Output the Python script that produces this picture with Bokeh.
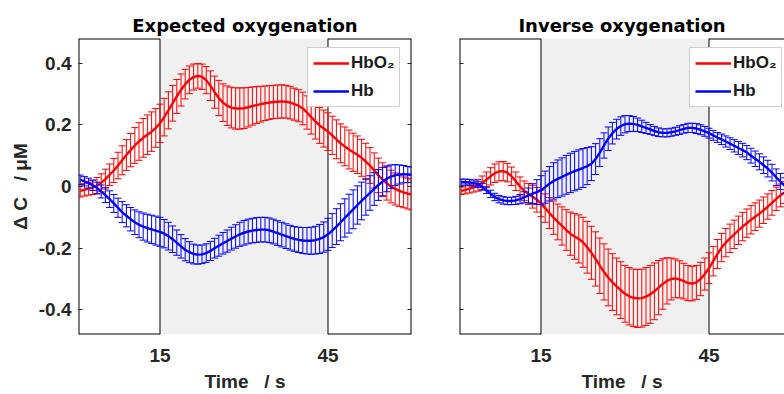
from bokeh.plotting import figure
from bokeh.models import (Range1d, ColumnDataSource, BoxAnnotation, Legend, LegendItem,
                          LinearAxis, FixedTicker, CustomJSTickFormatter)
from bokeh.layouts import row
from bokeh.embed import file_html
from bokeh.resources import INLINE

# ---------------- data ----------------
TIME = [0.75, 1.5, 2.25, 3.0, 3.75, 4.5, 5.25, 6.0, 6.75, 7.5,
        8.25, 9.0, 9.75, 10.5, 11.25, 12.0, 12.75, 13.5, 14.25, 15.0,
        15.75, 16.5, 17.25, 18.0, 18.75, 19.5, 20.25, 21.0, 21.75, 22.5,
        23.25, 24.0, 24.75, 25.5, 26.25, 27.0, 27.75, 28.5, 29.25, 30.0,
        30.75, 31.5, 32.25, 33.0, 33.75, 34.5, 35.25, 36.0, 36.75, 37.5,
        38.25, 39.0, 39.75, 40.5, 41.25, 42.0, 42.75, 43.5, 44.25, 45.0,
        45.75, 46.5, 47.25, 48.0, 48.75, 49.5, 50.25, 51.0, 51.75, 52.5,
        53.25, 54.0, 54.75, 55.5, 56.25, 57.0, 57.75, 58.5, 59.25, 60.0]

# Expected oxygenation
EXP_HBO2 = [-0.014, -0.011, -0.007, -0.003, 0.003, 0.012, 0.024, 0.038, 0.052, 0.068,
            0.085, 0.102, 0.118, 0.133, 0.146, 0.158, 0.168, 0.178, 0.19, 0.205,
            0.225, 0.247, 0.27, 0.292, 0.313, 0.332, 0.346, 0.355, 0.359, 0.356,
            0.345, 0.327, 0.306, 0.287, 0.272, 0.262, 0.256, 0.253, 0.253, 0.254,
            0.257, 0.261, 0.264, 0.267, 0.27, 0.272, 0.274, 0.275, 0.276, 0.275,
            0.272, 0.267, 0.262, 0.253, 0.24, 0.225, 0.211, 0.198, 0.188, 0.178,
            0.166, 0.153, 0.14, 0.13, 0.12, 0.111, 0.103, 0.093, 0.081, 0.068,
            0.052, 0.036, 0.022, 0.01, 0.0, -0.008, -0.014, -0.019, -0.023, -0.026]
EXP_HBO2_ERR = [0.02, 0.02, 0.021, 0.023, 0.026, 0.029, 0.032, 0.035, 0.039, 0.043,
                0.047, 0.05, 0.054, 0.058, 0.061, 0.063, 0.064, 0.064, 0.063, 0.062,
                0.061, 0.06, 0.058, 0.055, 0.052, 0.048, 0.045, 0.042, 0.04, 0.041,
                0.044, 0.048, 0.052, 0.057, 0.061, 0.064, 0.066, 0.067, 0.067, 0.066,
                0.064, 0.062, 0.06, 0.058, 0.056, 0.055, 0.054, 0.054, 0.054, 0.053,
                0.053, 0.052, 0.052, 0.053, 0.054, 0.055, 0.057, 0.058, 0.06, 0.061,
                0.062, 0.063, 0.063, 0.063, 0.063, 0.062, 0.061, 0.06, 0.059, 0.058,
                0.057, 0.056, 0.055, 0.054, 0.053, 0.052, 0.051, 0.05, 0.05, 0.05]
EXP_HB = [0.022, 0.017, 0.011, 0.004, -0.005, -0.016, -0.028, -0.041, -0.055, -0.069,
          -0.083, -0.095, -0.106, -0.116, -0.124, -0.13, -0.135, -0.139, -0.143, -0.147,
          -0.153, -0.161, -0.171, -0.182, -0.194, -0.205, -0.213, -0.219, -0.221, -0.22,
          -0.216, -0.209, -0.2, -0.192, -0.184, -0.177, -0.169, -0.162, -0.155, -0.15,
          -0.146, -0.143, -0.141, -0.14, -0.14, -0.142, -0.146, -0.151, -0.156, -0.161,
          -0.166, -0.17, -0.173, -0.175, -0.176, -0.176, -0.174, -0.17, -0.164, -0.155,
          -0.143, -0.13, -0.116, -0.102, -0.088, -0.074, -0.06, -0.047, -0.034, -0.021,
          -0.008, 0.005, 0.016, 0.025, 0.032, 0.037, 0.039, 0.04, 0.039, 0.038]
EXP_HB_ERR = [0.015, 0.015, 0.016, 0.017, 0.019, 0.021, 0.024, 0.027, 0.029, 0.031,
              0.034, 0.036, 0.038, 0.04, 0.042, 0.044, 0.045, 0.046, 0.047, 0.047,
              0.046, 0.045, 0.043, 0.041, 0.038, 0.036, 0.034, 0.032, 0.031, 0.03,
              0.03, 0.031, 0.032, 0.034, 0.035, 0.036, 0.037, 0.038, 0.039, 0.04,
              0.04, 0.04, 0.04, 0.04, 0.04, 0.04, 0.04, 0.04, 0.04, 0.04,
              0.04, 0.04, 0.041, 0.042, 0.043, 0.044, 0.045, 0.047, 0.049, 0.052,
              0.055, 0.058, 0.06, 0.062, 0.063, 0.063, 0.062, 0.061, 0.059, 0.056,
              0.053, 0.05, 0.046, 0.042, 0.038, 0.034, 0.031, 0.028, 0.026, 0.025]

# Inverse oxygenation
INV_HBO2 = [-0.014, -0.011, -0.007, -0.002, 0.004, 0.012, 0.022, 0.033, 0.043, 0.049,
            0.05, 0.045, 0.033, 0.017, 0.0, -0.014, -0.024, -0.033, -0.043, -0.055,
            -0.07, -0.086, -0.101, -0.115, -0.128, -0.141, -0.153, -0.162, -0.17, -0.181,
            -0.197, -0.215, -0.235, -0.257, -0.277, -0.295, -0.31, -0.324, -0.336, -0.348,
            -0.356, -0.361, -0.363, -0.362, -0.357, -0.35, -0.34, -0.328, -0.316, -0.306,
            -0.3, -0.298, -0.301, -0.307, -0.313, -0.315, -0.311, -0.3, -0.284, -0.265,
            -0.242, -0.219, -0.198, -0.182, -0.168, -0.155, -0.142, -0.13, -0.119, -0.108,
            -0.098, -0.088, -0.077, -0.065, -0.053, -0.04, -0.029, -0.019, -0.011, -0.005]
INV_HBO2_ERR = [0.012, 0.013, 0.014, 0.016, 0.019, 0.022, 0.025, 0.028, 0.03, 0.031,
                0.031, 0.03, 0.03, 0.03, 0.031, 0.032, 0.034, 0.037, 0.04, 0.043,
                0.046, 0.05, 0.054, 0.058, 0.062, 0.066, 0.07, 0.074, 0.078, 0.081,
                0.084, 0.086, 0.088, 0.09, 0.091, 0.092, 0.092, 0.092, 0.092, 0.092,
                0.093, 0.093, 0.094, 0.094, 0.094, 0.094, 0.092, 0.088, 0.082, 0.075,
                0.068, 0.063, 0.06, 0.058, 0.057, 0.056, 0.055, 0.054, 0.052, 0.05,
                0.048, 0.047, 0.046, 0.046, 0.046, 0.046, 0.046, 0.046, 0.046, 0.046,
                0.045, 0.044, 0.043, 0.041, 0.04, 0.038, 0.037, 0.036, 0.035, 0.035]
INV_HB = [0.014, 0.014, 0.013, 0.011, 0.007, -0.001, -0.012, -0.024, -0.034, -0.041,
          -0.045, -0.047, -0.047, -0.045, -0.041, -0.035, -0.029, -0.023, -0.018, -0.012,
          -0.002, 0.009, 0.018, 0.025, 0.031, 0.038, 0.044, 0.05, 0.055, 0.06,
          0.066, 0.074, 0.089, 0.11, 0.133, 0.155, 0.173, 0.186, 0.196, 0.202,
          0.204, 0.203, 0.2, 0.195, 0.19, 0.185, 0.18, 0.176, 0.174, 0.174,
          0.176, 0.179, 0.183, 0.187, 0.19, 0.19, 0.188, 0.184, 0.179, 0.173,
          0.166, 0.159, 0.153, 0.146, 0.139, 0.132, 0.125, 0.118, 0.11, 0.1,
          0.09, 0.08, 0.069, 0.058, 0.045, 0.03, 0.016, 0.003, -0.008, -0.017]
INV_HB_ERR = [0.01, 0.01, 0.01, 0.01, 0.01, 0.011, 0.011, 0.012, 0.012, 0.012,
              0.012, 0.012, 0.012, 0.013, 0.015, 0.018, 0.024, 0.032, 0.04, 0.047,
              0.052, 0.056, 0.059, 0.061, 0.062, 0.063, 0.064, 0.064, 0.064, 0.063,
              0.06, 0.055, 0.05, 0.045, 0.041, 0.038, 0.035, 0.032, 0.03, 0.028,
              0.026, 0.024, 0.022, 0.02, 0.018, 0.016, 0.015, 0.014, 0.013, 0.013,
              0.013, 0.013, 0.014, 0.014, 0.015, 0.015, 0.016, 0.016, 0.016, 0.016,
              0.016, 0.016, 0.017, 0.018, 0.019, 0.02, 0.021, 0.022, 0.023, 0.024,
              0.025, 0.026, 0.027, 0.027, 0.027, 0.027, 0.026, 0.025, 0.024, 0.023]

STIM_START = 15
STIM_END = 45
X_TICKS = [15, 45]
Y_TICKS = [-0.4, -0.2, 0, 0.2, 0.4]
SERIES_NAMES = ["HbO\u2082", "Hb"]
TITLES = ["Expected oxygenation", "Inverse oxygenation"]
X_LABEL = "Time\u00a0\u00a0 / s"
Y_LABEL = "\u0394 C\u00a0\u00a0 / \u03bcM"

RED = "#ff0000"
BLUE = "#0000ff"
TXT = "#262626"
FONT = "Liberation Sans"
Y0, Y1 = -0.48, 0.48

fmt = CustomJSTickFormatter(code="""
const s = tick.toFixed(1);
return (s == '0.0' || s == '-0.0') ? '0' : s;
""")


def add_series(p, mean, err, color):
    src = ColumnDataSource(dict(t=TIME, m=mean,
                                hi=[a + b for a, b in zip(mean, err)],
                                lo=[a - b for a, b in zip(mean, err)]))
    p.segment(x0="t", y0="lo", x1="t", y1="hi", source=src, line_color=color, line_width=1)
    p.scatter(x="t", y="hi", source=src, marker="dash", size=7, line_color=color, line_width=1)
    p.scatter(x="t", y="lo", source=src, marker="dash", size=7, line_color=color, line_width=1)
    return p.line(x="t", y="m", source=src, line_color=color, line_width=2.4)


def make_panel(title, xr, hbo2, hbo2_err, hb, hb_err, first, width, mbl, mbr, leg_x):
    x0, x1 = xr
    p = figure(width=width, height=394, x_range=Range1d(x0, x1), y_range=Range1d(Y0, Y1),
               output_backend="svg", toolbar_location=None,
               min_border_left=mbl, min_border_right=mbr, min_border_top=38, min_border_bottom=59)
    p.outline_line_color = None
    p.grid.visible = False
    p.background_fill_color = "white"
    p.border_fill_color = "white"

    p.title.text = title
    p.title.align = "center"
    p.title.text_font = "DejaVu Sans"
    p.title.text_font_style = "bold"
    p.title.text_font_size = "18px"
    p.title.text_color = "#000000"
    p.title.standoff = 6

    # stimulus shading
    p.add_layout(BoxAnnotation(left=STIM_START, right=STIM_END, fill_color="#f0f0f0",
                               fill_alpha=1, line_color=None, level="underlay"))
    # box borders around the rest periods (edge lines are clipped to 1px at the frame)
    p.segment(x0=[x0, x0, STIM_END, STIM_END], y0=[Y1, Y0, Y1, Y0],
              x1=[STIM_START, STIM_START, x1, x1], y1=[Y1, Y0, Y1, Y0],
              line_color="black", line_width=2)
    edges = [x0, x1] if first else [x0]
    p.segment(x0=edges, y0=[Y0] * len(edges), x1=edges, y1=[Y1] * len(edges),
              line_color="black", line_width=2)
    p.segment(x0=[STIM_START, STIM_END], y0=[Y0, Y0], x1=[STIM_START, STIM_END], y1=[Y1, Y1],
              line_color="black", line_width=1)

    r_red = add_series(p, hbo2, hbo2_err, RED)
    r_blue = add_series(p, hb, hb_err, BLUE)

    leg = Legend(items=[LegendItem(label=SERIES_NAMES[0], renderers=[r_red]),
                        LegendItem(label=SERIES_NAMES[1], renderers=[r_blue])],
                 location=(leg_x, 227))
    leg.label_text_font = FONT
    leg.label_text_font_style = "bold"
    leg.label_text_font_size = "17px"
    leg.label_text_color = "#1a1a1a"
    leg.glyph_width = 36
    leg.glyph_height = 20
    leg.label_height = 20
    leg.label_standoff = 2
    leg.padding = 5
    leg.spacing = 8
    leg.margin = 0
    leg.border_line_color = "#a0a0a0"
    leg.border_line_width = 1.5
    leg.background_fill_color = "white"
    leg.background_fill_alpha = 1
    p.add_layout(leg)

    xa = p.xaxis[0]
    xa.ticker = FixedTicker(ticks=X_TICKS)
    xa.axis_line_color = None
    xa.major_tick_in = 0
    xa.major_tick_out = 0
    xa.minor_tick_line_color = None
    xa.major_label_text_font = FONT
    xa.major_label_text_font_style = "bold"
    xa.major_label_text_font_size = "19px"
    xa.major_label_text_color = TXT
    xa.major_label_standoff = 14
    xa.axis_label = X_LABEL
    xa.axis_label_text_font = FONT
    xa.axis_label_text_font_style = "bold"
    xa.axis_label_text_font_size = "19px"
    xa.axis_label_text_color = TXT
    xa.axis_label_standoff = 6

    ya = p.yaxis[0]
    ya.ticker = FixedTicker(ticks=Y_TICKS)
    ya.axis_line_color = None
    ya.major_tick_in = 4
    ya.major_tick_out = 0
    ya.major_tick_line_color = TXT
    ya.minor_tick_line_color = None
    ya.major_label_text_font = FONT
    ya.major_label_text_font_style = "bold"
    ya.major_label_text_color = TXT
    ya.major_label_text_font_size = "19px"
    if first:
        ya.formatter = fmt
        ya.major_label_standoff = 7
        ya.axis_label = Y_LABEL
        ya.axis_label_text_font = FONT
        ya.axis_label_text_font_style = "bold"
        ya.axis_label_text_font_size = "19px"
        ya.axis_label_text_color = TXT
        ya.axis_label_standoff = 5
        ra = LinearAxis(ticker=FixedTicker(ticks=Y_TICKS),
                        formatter=CustomJSTickFormatter(code="return '';"),
                        major_tick_in=4, major_tick_out=0, axis_line_color=None,
                        minor_tick_line_color=None, major_tick_line_color=TXT,
                        major_label_standoff=0)
        p.add_layout(ra, "right")
    else:
        ya.formatter = CustomJSTickFormatter(code="return '';")
        ya.major_label_standoff = 0
    return p


# frames: left panel 78..411, right panel 459..784 (cut by the window, as in the original)
p1 = make_panel(TITLES[0], (0.446, 59.911), EXP_HBO2, EXP_HBO2_ERR, EXP_HB, EXP_HB_ERR,
                True, 421, 78, 10, 229)
p2 = make_panel(TITLES[1], (0.446, 58.482), INV_HBO2, INV_HBO2_ERR, INV_HB, INV_HB_ERR,
                False, 363, 38, 0, 230)

layout = row(p1, p2)
open("out.html", "w").write(file_html(layout, INLINE))
